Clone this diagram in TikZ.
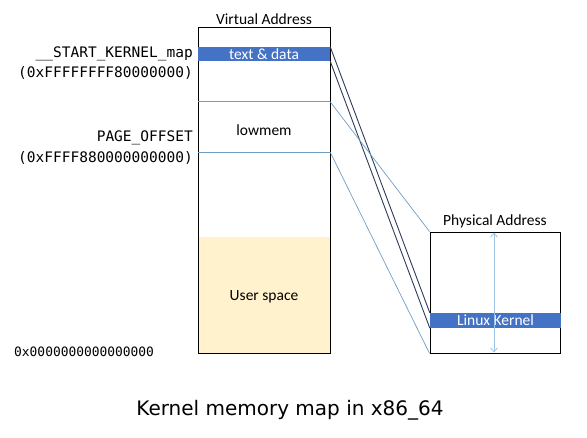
\documentclass[tikz,border=0pt]{standalone}
\usepackage{fontspec}
\setmainfont{Carlito}
\setmonofont{DejaVu Sans Mono}
\newfontfamily\titlefont{DejaVu Sans}
\usetikzlibrary{arrows.meta}
\definecolor{bandblue}{HTML}{4472C4}
\definecolor{userfill}{HTML}{FFF2CC}
\definecolor{lightline}{HTML}{6E9EC4}
\definecolor{darkline}{HTML}{2E3A5A}
\definecolor{arrowblue}{HTML}{9DC3E6}
\begin{document}
\begin{tikzpicture}[x=1pt,y=-1pt,
  box/.style={draw=black,line width=0.9pt,inner sep=0pt,fill=none},
  band/.style={fill=bandblue,text=white,inner sep=0pt,font=\fontsize{15.5}{16}\selectfont},
  lbl/.style={inner sep=0pt,font=\fontsize{15.5}{16}\selectfont},
  addr/.style={inner sep=0pt,anchor=east,font=\ttfamily\fontsize{14.5}{15}\selectfont},
  lightconn/.style={draw=lightline,line width=0.7pt},
  darkconn/.style={draw=darkline,line width=0.9pt}]
\useasboundingbox (0,0) rectangle (587,438);
% virtual address space
\node[fill=userfill,inner sep=0pt,minimum width=132pt,minimum height=116pt] (user) at (264,295) {};
\node[lbl] (usertxt) at (264,297) {User space};
\node[box,minimum width=132pt,minimum height=326pt] (virt) at (264,190) {};
\node[band,minimum width=132pt,minimum height=14pt] (text) at (264,54) {text \& data};
\node[inner sep=0pt,minimum width=132pt,minimum height=50pt] (low) at (264,127) {};
\node[lbl] (lowtxt) at (264,130) {lowmem};
\draw[lightconn] (low.north west) -- (low.north east);
\draw[lightconn] (low.south west) -- (low.south east);
\node[lbl] (vtitle) at (264,19) {Virtual Address};
% physical address space
\node[box,minimum width=130pt,minimum height=121pt] (phys) at (495,292.5) {};
\node[band,minimum width=131pt,minimum height=15pt] (kern) at (495.5,320.5) {Linux Kernel};
\node[lbl] (ptitle) at (495,221) {Physical Address};
\draw[arrowblue,line width=0.8pt,{Straight Barb[length=4pt,width=7pt]}-{Straight Barb[length=4pt,width=7pt]}]
  ([xshift=-1pt,yshift=-1pt]phys.north) -- ([xshift=-1pt,yshift=1pt]phys.south);
% connectors
\draw[darkconn] (text.north east) -- (kern.north west);
\draw[darkconn] (text.south east) -- (kern.south west);
\draw[lightconn] (low.north east) -- (phys.north west);
\draw[lightconn] (low.south east) -- (phys.south west);
% address labels
\node[addr] (skm) at (193,54) {\_\_START\_KERNEL\_map};
\node[addr] (skmv) at (193,73) {(0xFFFFFFFF80000000)};
\node[addr] (po) at (193,138) {PAGE\_OFFSET};
\node[addr] (pov) at (193,158) {(0xFFFF880000000000)};
\node[inner sep=0pt,anchor=west,font=\ttfamily\fontsize{12.9}{13}\selectfont] (zero) at (14,352) {0x0000000000000000};
% caption
\node[inner sep=0pt,font=\titlefont\fontsize{20}{22}\selectfont] (cap) at (290,410) {Kernel memory map in x86\_64};
\end{tikzpicture}
\end{document}
